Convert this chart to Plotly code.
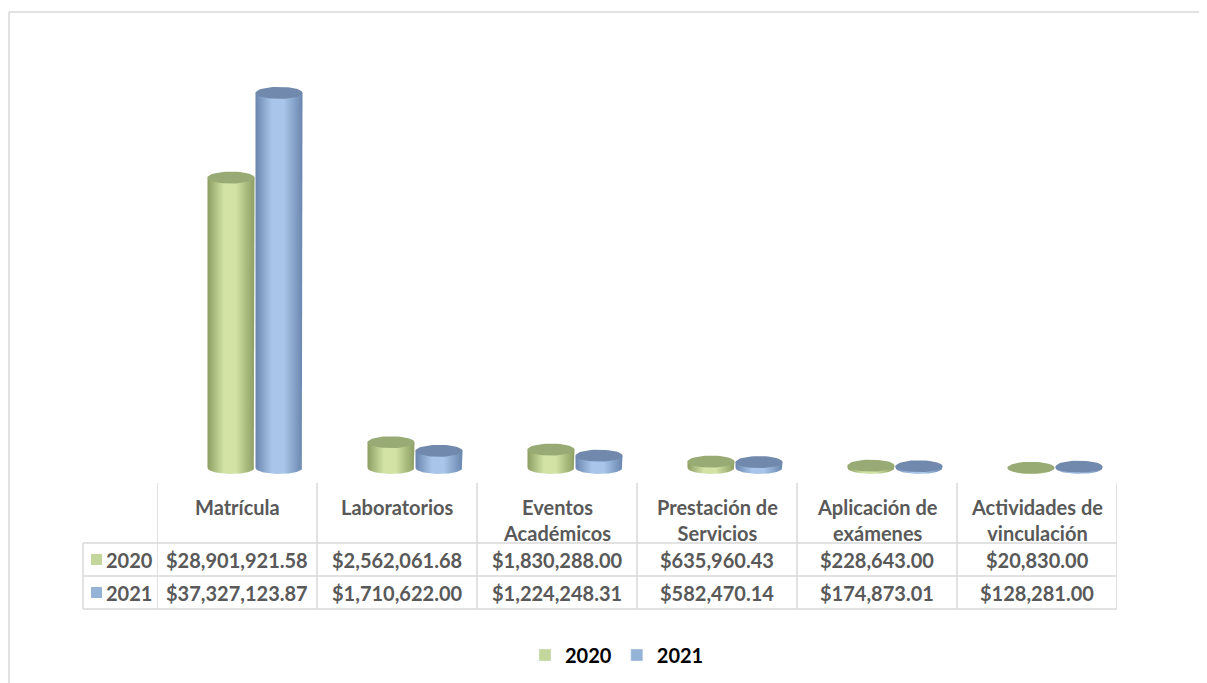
import numpy as np
import plotly.graph_objects as go

# Data
categories = ["Matrícula", "Laboratorios", "Eventos<br>Académicos",
              "Prestación de<br>Servicios", "Aplicación de<br>exámenes",
              "Actividades de<br>vinculación"]
years = ["2020", "2021"]
values_2020 = [28901921.58, 2562061.68, 1830288.00, 635960.43, 228643.00, 20830.00]
values_2021 = [37327123.87, 1710622.00, 1224248.31, 582470.14, 174873.01, 128281.00]

# Colours
GREEN_DARK = "#8c9e62"
GREEN_LIGHT = "#d3e3a6"
GREEN_TOP = "#98ab74"
GREEN_KEY = "#c3d69b"
BLUE_DARK = "#6a86ae"
BLUE_LIGHT = "#a9c6ea"
BLUE_TOP = "#7189ad"
BLUE_KEY = "#95b3d7"
GRID = "#d9d9d9"
TEXT = "#595959"
FONT = "Lato"

# Page geometry (pixels on the page; the html body adds an 8px margin)
OFF = 8
W, H = 1207, 683
L, R, T, B = 157, 1117, 60, 475
Y_RANGE = [-0.7e6, 40.6e6]
PX_PER_UNIT = (B - T) / (Y_RANGE[1] - Y_RANGE[0])
ELL_H = 6 / PX_PER_UNIT          # half height of the ellipses, data units
HALF_W = 23.5 / (R - L) * 6      # half width of a cylinder, category units
OFFSETS = [-6 / 160, 42 / 160]   # centre of each series within a category


def px_x(p):
    return (p - L) / (R - L)


def px_y(p):
    return (B - p) / (B - T)


def cylinder(fig, xc, v, dark, light, top):
    x0, x1 = xc - HALF_W, xc + HALF_W
    t = np.linspace(0, np.pi, 40)
    bx = xc + HALF_W * np.cos(t)
    by = -ELL_H * np.sin(t)
    xs = [x0, x0, x1, x1] + list(bx) + [x0]
    ys = [0, v, v, 0] + list(by) + [0]
    fig.add_trace(go.Scatter(
        x=xs, y=ys, mode="lines", fill="toself", line=dict(width=0),
        fillgradient=dict(type="horizontal",
                          colorscale=[[0, dark], [0.35, light], [0.6, light], [1, dark]]),
        showlegend=False, hoverinfo="skip",
    ))
    a = np.linspace(0, 2 * np.pi, 60)
    fig.add_trace(go.Scatter(
        x=xc + HALF_W * np.cos(a), y=v + ELL_H * np.sin(a),
        mode="lines", fill="toself", line=dict(width=0), fillcolor=top,
        showlegend=False, hoverinfo="skip",
    ))


fig = go.Figure()

series = [
    (values_2020, GREEN_DARK, GREEN_LIGHT, GREEN_TOP, GREEN_KEY),
    (values_2021, BLUE_DARK, BLUE_LIGHT, BLUE_TOP, BLUE_KEY),
]

for i in range(len(categories)):
    for s in (1, 0):
        vals, dark, light, top, _ = series[s]
        cylinder(fig, i + OFFSETS[s], vals[i], dark, light, top)

# legend entries
for name, (_, _, _, _, key) in zip(years, series):
    fig.add_trace(go.Bar(x=[0], y=[0], name="<b>%s</b>" % name, marker_color=key,
                         width=0.001, hoverinfo="skip"))

shapes = []
annotations = []

# data table
n = len(categories)
table_top, row1, row2, row3 = 483, 543, 576, 609
label_left = 83
for k in range(n + 1):
    shapes.append(dict(type="line", xref="x", yref="paper",
                       x0=k - 0.5, x1=k - 0.5, y0=px_y(table_top), y1=px_y(row3),
                       line=dict(color=GRID, width=1.5)))
shapes.append(dict(type="line", xref="paper", yref="paper",
                   x0=px_x(label_left), x1=px_x(label_left), y0=px_y(row1), y1=px_y(row3),
                   line=dict(color=GRID, width=1.5)))
for yy in (row1, row2, row3):
    shapes.append(dict(type="line", xref="paper", yref="paper",
                       x0=px_x(label_left), x1=1, y0=px_y(yy), y1=px_y(yy),
                       line=dict(color=GRID, width=1.5)))

for i, cat in enumerate(categories):
    annotations.append(dict(x=i, y=px_y(493), xref="x", yref="paper",
                            text="<b>%s</b>" % cat, showarrow=False,
                            yanchor="top", xanchor="center",
                            font=dict(family=FONT, size=20, color=TEXT)))
    for vals, yc in ((values_2020, 559.5), (values_2021, 592.5)):
        annotations.append(dict(x=i, y=px_y(yc), xref="x", yref="paper",
                                text="<b>$%s</b>" % format(vals[i], ",.2f"),
                                showarrow=False, yanchor="middle", xanchor="center",
                                font=dict(family=FONT, size=20, color=TEXT)))

for name, key, yc in ((years[0], GREEN_KEY, 559.5), (years[1], BLUE_KEY, 592.5)):
    shapes.append(dict(type="rect", xref="paper", yref="paper",
                       x0=px_x(91), x1=px_x(102), y0=px_y(yc + 5.5), y1=px_y(yc - 5.5),
                       fillcolor=key, line=dict(width=0)))
    annotations.append(dict(x=px_x(104), y=px_y(yc), xref="paper", yref="paper",
                            text="<b>%s</b>" % name, showarrow=False,
                            xanchor="left", yanchor="middle",
                            font=dict(family=FONT, size=20, color=TEXT)))

# chart frame (partially visible)
shapes.append(dict(type="line", xref="paper", yref="paper",
                   x0=px_x(OFF + 1), x1=px_x(W + 5), y0=px_y(12), y1=px_y(12),
                   line=dict(color=GRID, width=1.5)))
shapes.append(dict(type="line", xref="paper", yref="paper",
                   x0=px_x(OFF + 1), x1=px_x(OFF + 1), y0=px_y(12), y1=px_y(H + 5),
                   line=dict(color=GRID, width=1.5)))

fig.update_layout(
    width=W - OFF, height=H - OFF,
    margin=dict(l=L - OFF, r=W - R, t=T - OFF, b=H - B, autoexpand=False),
    paper_bgcolor="white", plot_bgcolor="white",
    xaxis=dict(range=[-0.5, n - 0.5], visible=False, fixedrange=True),
    yaxis=dict(range=Y_RANGE, visible=False, fixedrange=True),
    shapes=shapes, annotations=annotations,
    showlegend=True,
    legend=dict(orientation="h", x=px_x(617), y=px_y(655), xanchor="center",
                yanchor="middle", font=dict(family=FONT, size=20, color="black"),
                itemwidth=30, traceorder="normal"),
    font=dict(family=FONT),
)

fig.write_html("out.html")
